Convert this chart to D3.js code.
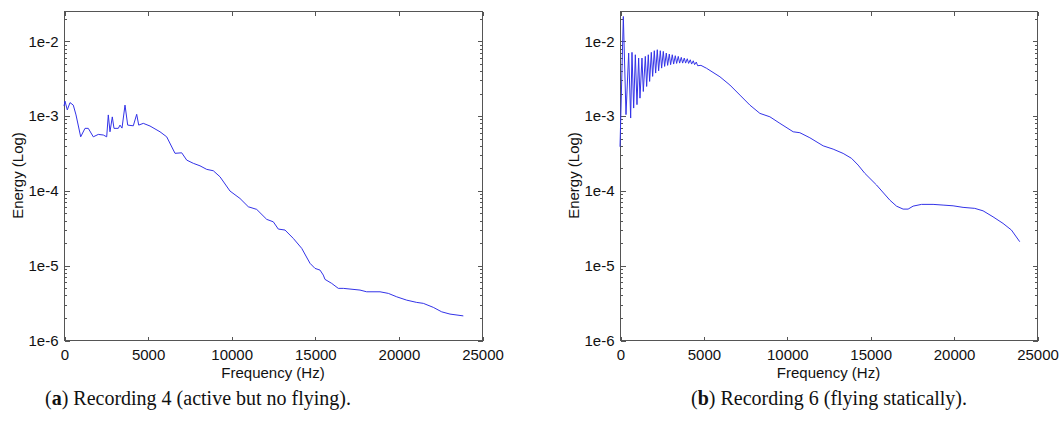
<!DOCTYPE html>
<html>
<head>
<meta charset="utf-8">
<script src="https://cdn.jsdelivr.net/npm/d3@7"></script>
<style>
  html, body { margin: 0; padding: 0; background: #fff; }
  svg { display: block; }
  .tick-label { font-family: "Liberation Sans", Arial, sans-serif; font-size: 15px; fill: #111; }
  .axis-label { font-family: "Liberation Sans", Arial, sans-serif; font-size: 15px; fill: #111; }
  .caption { font-family: "Liberation Serif", "Times New Roman", serif; font-size: 20px; fill: #111; }
</style>
</head>
<body>
<div id="chart"></div>
<script>
// Recording 4 (active but no flying)
const rec4Freq = [0, 60, 197, 359, 556, 718, 999, 1256, 1453, 1752, 2051, 2351, 2554, 2650, 2751, 2889, 2990,
  3248, 3349, 3469, 3649, 3810, 4145, 4348, 4468, 4743, 5144, 5742, 6142, 6639, 7040, 7339, 7734, 8134,
  8535, 8930, 9330, 9928, 10526, 11023, 11525, 12123, 12518, 12817, 13218, 13714, 14217, 14713, 15012,
  15311, 15509, 15610, 16011, 16406, 16705, 17703, 18104, 18900, 19397, 19899, 20497, 21096, 21490,
  22088, 22591, 23087, 23883];
const rec4Energy = [1.34e-3, 1.56e-3, 1.19e-3, 1.49e-3, 1.38e-3, 1.02e-3, 5.2e-4, 6.75e-4, 6.75e-4, 5.2e-4,
  5.6e-4, 5.5e-4, 5.2e-4, 1.02e-3, 6.07e-4, 9.6e-4, 6.75e-4, 6.75e-4, 7.46e-4, 6.8e-4, 1.38e-3, 7.46e-4,
  7.3e-4, 1.04e-3, 7.46e-4, 7.87e-4, 7.25e-4, 6.07e-4, 5.2e-4, 3.13e-4, 3.18e-4, 2.54e-4, 2.3e-4, 2.13e-4,
  1.91e-4, 1.83e-4, 1.52e-4, 9.8e-5, 7.8e-5, 6.04e-5, 5.57e-5, 4.1e-5, 3.8e-5, 3.04e-5, 2.95e-5, 2.28e-5,
  1.68e-5, 1.06e-5, 9.06e-6, 8.6e-6, 7.37e-6, 6.46e-6, 5.71e-6, 4.9e-6, 4.9e-6, 4.65e-6, 4.41e-6, 4.41e-6,
  4.2e-6, 3.78e-6, 3.41e-6, 3.18e-6, 3.09e-6, 2.73e-6, 2.38e-6, 2.22e-6, 2.1e-6];

// Recording 6 (flying statically)
const rec6Freq = [0, 200, 359, 519, 639, 719, 819, 919, 1018, 1118, 1198, 1318, 1398, 1518, 1598, 1697, 1777,
  1877, 1957, 2057, 2137, 2236, 2316, 2416, 2496, 2596, 2676, 2775, 2856, 2955, 3035, 3135, 3215, 3315,
  3395, 3494, 3575, 3674, 3754, 3854, 3934, 4034, 4114, 4213, 4293, 4393, 4473, 4573, 4653, 4853, 5194,
  5991, 6590, 7189, 7788, 8387, 8987, 9586, 10383, 10784, 11383, 12180, 12779, 13378, 13881, 14276,
  14678, 15379, 16176, 16577, 16972, 17272, 17572, 18075, 18770, 19369, 19968, 20567, 21268, 21766,
  22365, 22964, 23467, 23964];
const rec6Energy = [3.83e-4, 2.11e-2, 1.03e-3, 6.85e-3, 9.27e-4, 7.0e-3, 1.26e-3, 6.5e-3, 1.4e-3, 5.87e-3,
  1.71e-3, 5.87e-3, 2.1e-3, 6.18e-3, 2.45e-3, 6.5e-3, 2.86e-3, 7.0e-3, 3.34e-3, 7.36e-3, 3.7e-3, 7.59e-3,
  3.97e-3, 7.36e-3, 4.31e-3, 7.21e-3, 4.54e-3, 6.85e-3, 4.69e-3, 6.64e-3, 4.79e-3, 6.5e-3, 4.88e-3,
  6.31e-3, 4.98e-3, 6.18e-3, 5.03e-3, 6.0e-3, 5.03e-3, 5.87e-3, 5.03e-3, 5.75e-3, 4.98e-3, 5.57e-3,
  4.88e-3, 5.4e-3, 4.79e-3, 5.19e-3, 4.64e-3, 4.69e-3, 4.28e-3, 3.3e-3, 2.56e-3, 1.88e-3, 1.38e-3,
  1.07e-3, 9.63e-4, 7.87e-4, 6.07e-4, 5.9e-4, 5.05e-4, 3.94e-4, 3.56e-4, 3.12e-4, 2.68e-4, 2.18e-4,
  1.69e-4, 1.18e-4, 7.41e-5, 6.16e-5, 5.62e-5, 5.62e-5, 6.16e-5, 6.5e-5, 6.5e-5, 6.36e-5, 6.22e-5,
  5.93e-5, 5.75e-5, 5.33e-5, 4.43e-5, 3.62e-5, 2.95e-5, 2.06e-5];

const xTicks = [0, 5000, 10000, 15000, 20000, 25000];
const xTickLabels = ['0', '5000', '10000', '15000', '20000', '25000'];
const yTicks = [1e-2, 1e-3, 1e-4, 1e-5, 1e-6];
const yTickLabels = ['1e-2', '1e-3', '1e-4', '1e-5', '1e-6'];
const captions = [
  { tag: 'a', text: ' Recording 4 (active but no flying).' },
  { tag: 'b', text: ' Recording 6 (flying statically).' },
];

const W = 1060, H = 434;
const TOP = 11, BOTTOM = 340;
const AXIS_COLOR = '#555';
const LINE_COLOR = '#3333e8';

const panels = [
  { left: 64, right: 482, freq: rec4Freq, energy: rec4Energy, caption: captions[0], capX: 198 },
  { left: 620, right: 1037, freq: rec6Freq, energy: rec6Energy, caption: captions[1], capX: 829 },
];

const svg = d3.select('#chart').append('svg')
  .attr('width', W)
  .attr('height', H)
  .attr('viewBox', `0 0 ${W} ${H}`);

panels.forEach(p => {
  const x = d3.scaleLinear().domain([0, 25000]).range([p.left, p.right]);
  const y = d3.scaleLog().domain([1e-6, 2.5e-2]).range([BOTTOM, TOP]);
  const minor = y.ticks().filter(v => !yTicks.some(t => Math.abs(t - v) / t < 1e-6));
  const g = svg.append('g');

  // frame
  g.append('rect')
    .attr('x', p.left + 0.5)
    .attr('y', TOP + 0.5)
    .attr('width', p.right - p.left)
    .attr('height', BOTTOM - TOP)
    .attr('fill', 'none')
    .attr('stroke', AXIS_COLOR)
    .attr('stroke-width', 1);

  const styleAxis = sel => {
    sel.select('.domain').remove();
    sel.selectAll('.tick line').attr('stroke', AXIS_COLOR).attr('shape-rendering', 'crispEdges');
    sel.selectAll('text').attr('class', 'tick-label').attr('fill', null);
    sel.attr('font-family', null).attr('font-size', null);
  };

  // x axes, ticks pointing inward on bottom and top
  g.append('g')
    .attr('transform', `translate(0.5,${BOTTOM + 0.5})`)
    .call(d3.axisBottom(x).tickValues(xTicks).tickSizeInner(-4).tickSizeOuter(0)
      .tickPadding(9).tickFormat((d, i) => xTickLabels[i]))
    .call(styleAxis);
  g.append('g')
    .attr('transform', `translate(0.5,${TOP + 0.5})`)
    .call(d3.axisTop(x).tickValues(xTicks).tickSizeInner(-4).tickSizeOuter(0).tickFormat(''))
    .call(styleAxis);

  // y axes: decade ticks plus minor log ticks, both sides
  [[d3.axisLeft, p.left, 1], [d3.axisRight, p.right, -1]].forEach(([ax, pos, side]) => {
    g.append('g')
      .attr('transform', `translate(${pos + 0.5},0.5)`)
      .call(ax(y).tickValues(yTicks).tickSizeInner(-5).tickSizeOuter(0).tickPadding(6)
        .tickFormat((d, i) => side > 0 ? yTickLabels[i] : ''))
      .call(styleAxis);
    g.append('g')
      .attr('transform', `translate(${pos + 0.5},0.5)`)
      .call(ax(y).tickValues(minor).tickSizeInner(-2.5).tickSizeOuter(0).tickFormat(''))
      .call(styleAxis);
  });

  // axis titles
  g.append('text')
    .attr('class', 'axis-label')
    .attr('x', (p.left + p.right) / 2)
    .attr('y', 378)
    .attr('text-anchor', 'middle')
    .text('Frequency (Hz)');
  g.append('text')
    .attr('class', 'axis-label')
    .attr('transform', `translate(${p.left - 41},${(TOP + BOTTOM) / 2}) rotate(-90)`)
    .attr('text-anchor', 'middle')
    .text('Energy (Log)');

  // spectrum
  const pts = p.freq.map((f, i) => [f, p.energy[i]]);
  g.append('path')
    .datum(pts)
    .attr('fill', 'none')
    .attr('stroke', LINE_COLOR)
    .attr('stroke-width', 1)
    .attr('stroke-linejoin', 'round')
    .attr('d', d3.line().x(d => x(d[0])).y(d => y(d[1])));

  // sub-caption
  const cap = g.append('text')
    .attr('class', 'caption')
    .attr('x', p.capX)
    .attr('y', 405)
    .attr('text-anchor', 'middle');
  cap.append('tspan').text('(');
  cap.append('tspan').attr('font-weight', 'bold').text(p.caption.tag);
  cap.append('tspan').text(')' + p.caption.text);
});
</script>
</body>
</html>
